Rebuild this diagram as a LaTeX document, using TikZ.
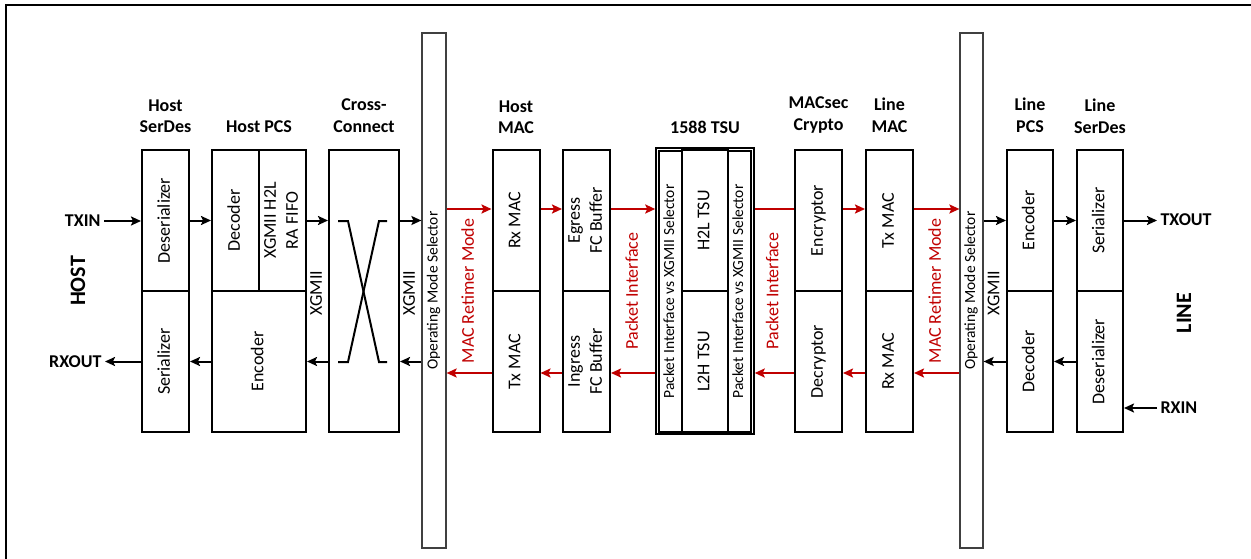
\documentclass[tikz,border=0pt]{standalone}
\usepackage{fontspec}
\setmainfont{Carlito}
\usetikzlibrary{arrows.meta}
\definecolor{mred}{RGB}{192,0,0}
\newcommand{\vlab}[1]{\rotatebox{90}{\begin{tabular}{@{}c@{}}#1\end{tabular}}}

\begin{document}
\begin{tikzpicture}[x=1pt,y=-1pt,
  cell/.style={draw, line width=2pt, minimum width=47pt, minimum height=141pt, inner sep=0pt, font=\fontsize{18}{22}\selectfont},
  selbar/.style={draw=black!75, line width=1.2pt, minimum width=24pt, minimum height=515pt, inner sep=0pt, font=\fontsize{15.5}{18}\selectfont},
  small/.style={font=\fontsize{15.5}{18}\selectfont},
  title/.style={font=\bfseries\fontsize{18}{21.5}\selectfont, align=center},
  side/.style={font=\bfseries\fontsize{18}{21.5}\selectfont},
  big/.style={font=\bfseries\fontsize{22}{26}\selectfont},
  lab/.style={font=\fontsize{18}{22}\selectfont, inner sep=0pt},
  arr/.style={line width=2pt, -{Stealth[length=10pt,width=9pt,inset=2pt]}},
  rarr/.style={arr, draw=mred, color=mred},
  rline/.style={line width=2pt, draw=mred},
  xline/.style={line width=2pt}]
\useasboundingbox (0,0) rectangle (1251,559);
\draw[line width=1.5pt] (6,559) -- (6,5) -- (1251,5);

% host serdes
\node[cell] (hdes) at (165.5,220.5) {\vlab{Deserializer}};
\node[cell] (hser) at (165.5,361.5) {\vlab{Serializer}};
% host pcs
\node[cell] (hdec) at (235.5,220.5) {\vlab{Decoder}};
\node[cell] (hfifo) at (282.5,220.5) {\vlab{XGMII H2L\\RA FIFO}};
\node[cell, minimum width=94pt] (henc) at (259,361.5) {\vlab{Encoder}};
% cross-connect
\node[cell, minimum width=70pt, minimum height=282pt] (xc) at (364,291) {};
\draw[xline] (338,221) -- (348,221) -- (379,362) -- (387,362);
\draw[xline] (387,221) -- (379,221) -- (348,362) -- (338,362);
% mode selectors
\node[selbar] (osel) at (434,290.5) {\vlab{Operating Mode Selector}};
\node[selbar, minimum width=23pt] (lsel) at (971.5,290.5) {\vlab{Operating Mode Selector}};
% host mac
\node[cell] (hrx) at (516,220.5) {\vlab{Rx MAC}};
\node[cell] (htx) at (516,361.5) {\vlab{Tx MAC}};
% fc buffers
\node[cell] (egr) at (586.5,220.5) {\vlab{Egress\\FC Buffer}};
\node[cell] (ing) at (586.5,361.5) {\vlab{Ingress\\FC Buffer}};
% 1588 tsu
\node[draw, line width=1.5pt, minimum width=98pt, minimum height=286pt, inner sep=0pt] (tsu) at (705,291) {};
\node[cell, small, minimum width=23pt, minimum height=281pt] (psel1) at (670.5,291.5) {\vlab{Packet Interface vs XGMII Selector}};
\node[cell, minimum width=46pt] (h2l) at (705,220.5) {\vlab{H2L TSU}};
\node[cell, minimum width=46pt] (l2h) at (705,361.5) {\vlab{L2H TSU}};
\node[cell, small, minimum width=23pt, minimum height=281pt] (psel2) at (739.5,291.5) {\vlab{Packet Interface vs XGMII Selector}};
% macsec crypto
\node[cell] (encr) at (818.5,220.5) {\vlab{Encryptor}};
\node[cell] (decr) at (818.5,361.5) {\vlab{Decryptor}};
% line mac
\node[cell] (ltx) at (889.5,220.5) {\vlab{Tx MAC}};
\node[cell] (lrx) at (889.5,361.5) {\vlab{Rx MAC}};
% line pcs
\node[cell, minimum width=46pt] (lenc) at (1030,220.5) {\vlab{Encoder}};
\node[cell, minimum width=46pt] (ldec) at (1030,361.5) {\vlab{Decoder}};
% line serdes
\node[cell, minimum width=46pt] (lser) at (1100,220.5) {\vlab{Serializer}};
\node[cell, minimum width=46pt] (ldes) at (1100,361.5) {\vlab{Deserializer}};

% titles
\node[title] (t1) at (165.5,116) {Host\\SerDes};
\node[title] (t2) at (259,127) {Host PCS};
\node[title] (t3) at (364,115.5) {Cross-\\Connect};
\node[title] (t4) at (516,117) {Host\\MAC};
\node[title] (t5) at (705,127) {1588 TSU};
\node[title] (t6) at (818.5,115) {MACsec\\Crypto};
\node[title] (t7) at (889.5,115) {Line\\MAC};
\node[title] (t8) at (1030,115) {Line\\PCS};
\node[title] (t9) at (1100,116.5) {Line\\SerDes};

% ports
\node[side, anchor=east] (txin) at (104,221) {TXIN};
\node[side, anchor=east] (rxout) at (105,362) {RXOUT};
\node[side, anchor=west] (txout) at (1157,220) {TXOUT};
\node[side, anchor=west] (rxin) at (1157,408) {RXIN};
\node[big] (host) at (80,281) {\vlab{HOST}};
\node[big] (line) at (1186,313) {\vlab{LINE}};

% bus labels
\node[lab] (xg1) at (317.5,293) {\vlab{XGMII}};
\node[lab] (xg2) at (410.5,293) {\vlab{XGMII}};
\node[lab] (xg3) at (995,293) {\vlab{XGMII}};
\node[lab, text=mred] (mr1) at (469.5,291) {\vlab{MAC Retimer Mode}};
\node[lab, text=mred] (pi1) at (633.5,291) {\vlab{Packet Interface}};
\node[lab, text=mred] (pi2) at (774,291) {\vlab{Packet Interface}};
\node[lab, text=mred] (mr2) at (936.5,291) {\vlab{MAC Retimer Mode}};

\coordinate (rt) at (0,209);
\coordinate (rb) at (0,373);

% host side, black
\draw[arr] (txin.east) -- (txin.east -| hdes.west);
\draw[arr] (hdes) -- (hdec);
\draw[arr] (hfifo.east) -- (hfifo.east -| xc.west);
\draw[arr] (xc.east |- hfifo.east) -- (osel.west |- hfifo.east);
\draw[arr] (osel.west |- henc.east) -- (xc.east |- henc.east);
\draw[arr] (xc.west |- henc.east) -- (henc.east);
\draw[arr] (henc) -- (hser);
\draw[arr] (hser.west) -- (hser.west -| rxout.east);

% mac path, red
\draw[rarr] (osel.east |- rt) -- (hrx.west |- rt);
\draw[rarr] (hrx.east |- rt) -- (egr.west |- rt);
\draw[rarr] (egr.east |- rt) -- (tsu.west |- rt);
\draw[rline] (tsu.east |- rt) -- (encr.west |- rt);
\draw[rarr] (encr.east |- rt) -- (ltx.west |- rt);
\draw[rarr] (ltx.east |- rt) -- (lsel.west |- rt);
\draw[rarr] (lsel.west |- rb) -- (lrx.east |- rb);
\draw[rarr] (lrx.west |- rb) -- (decr.east |- rb);
\draw[rarr] (decr.west |- rb) -- (tsu.east |- rb);
\draw[rarr] (tsu.west |- rb) -- (ing.east |- rb);
\draw[rarr] (ing.west |- rb) -- (htx.east |- rb);
\draw[rarr] (htx.west |- rb) -- (osel.east |- rb);

% line side, black
\draw[arr] (lsel.east |- lenc.west) -- (lenc.west);
\draw[arr] (lenc) -- (lser);
\draw[arr] (lser.east) -- (lser.east -| txout.west);
\draw[arr] (ldec.west) -- (ldec.west -| lsel.east);
\draw[arr] (ldes) -- (ldec);
\draw[arr] (rxin.west) -- (rxin.west -| ldes.east);
\end{tikzpicture}
\end{document}
